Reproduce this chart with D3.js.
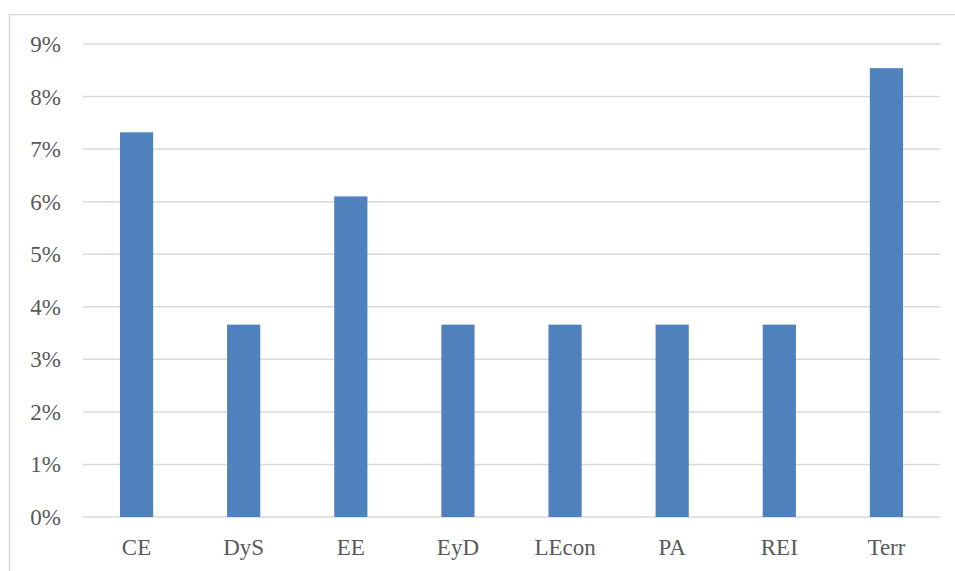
<!DOCTYPE html>
<html><head><meta charset="utf-8">
<script src="https://cdn.jsdelivr.net/npm/d3@7"></script>
<style>body{margin:0;background:#fff}svg{display:block}</style>
</head><body>
<script>
const categories = ["CE","DyS","EE","EyD","LEcon","PA","REI","Terr"];
const values = [0.0732,0.0366,0.0610,0.0366,0.0366,0.0366,0.0366,0.0854];
const yTicks = [0,0.01,0.02,0.03,0.04,0.05,0.06,0.07,0.08,0.09];

(function(){
const W=955,H=571;
const svg=d3.select("body").append("svg").attr("width",W).attr("height",H);
svg.append("rect").attr("x",9.5).attr("y",14.5).attr("width",W).attr("height",H)
  .attr("fill","#fff").attr("stroke","#d9d9d9").attr("stroke-width",1.5);
const pL=83,pR=940,pT=44,pB=517;
const x=d3.scaleBand().domain(categories).range([pL,pR]).paddingInner(0.69).paddingOuter(0.345);
const y=d3.scaleLinear().domain([0,0.09]).range([pB,pT]);
const font="'Liberation Serif', serif";
const g=svg.append("g");
g.selectAll("line.grid").data(yTicks).join("line").attr("class","grid")
  .attr("x1",pL).attr("x2",pR).attr("y1",d=>y(d)).attr("y2",d=>y(d))
  .attr("stroke","#d9d9d9").attr("stroke-width",1.5);
g.selectAll("text.yt").data(yTicks).join("text").attr("class","yt")
  .attr("x",61).attr("y",d=>y(d)).attr("dy","0.35em").attr("text-anchor","end")
  .attr("font-family",font).attr("font-size",23).attr("fill","#595959")
  .text(d=>d3.format(".0%")(d));
g.selectAll("rect.bar").data(values).join("rect").attr("class","bar")
  .attr("x",(d,i)=>x(categories[i])).attr("width",x.bandwidth())
  .attr("y",d=>y(d)).attr("height",d=>y(0)-y(d)).attr("fill","#4f81bd");
g.selectAll("text.xt").data(categories).join("text").attr("class","xt")
  .attr("x",d=>x(d)+x.bandwidth()/2).attr("y",555).attr("text-anchor","middle")
  .attr("font-family",font).attr("font-size",23).attr("fill","#595959").text(d=>d);
})();
</script>
</body></html>
